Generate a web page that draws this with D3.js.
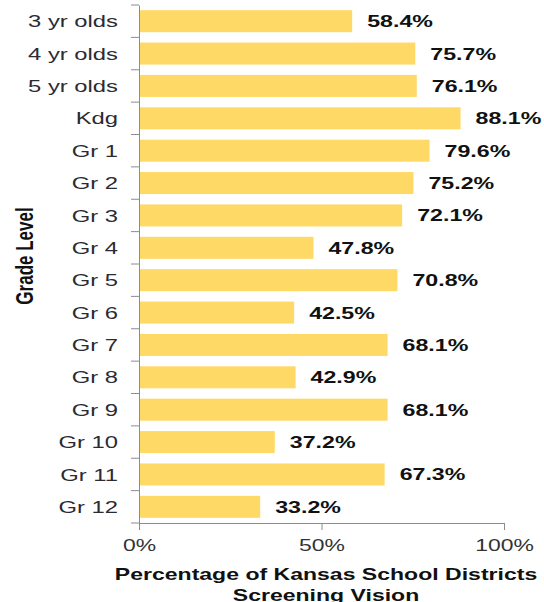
<!DOCTYPE html>
<html>
<head>
<meta charset="utf-8">
<script src="https://cdn.jsdelivr.net/npm/d3@7"></script>
<style>
  body { margin: 0; background: #fff; }
  svg { display: block; font-family: Arial, "Liberation Sans", sans-serif; }
</style>
</head>
<body>
<div id="chart"></div>
<script>
// grade levels and % of districts screening vision
var grades = ["3 yr olds", "4 yr olds", "5 yr olds", "Kdg", "Gr 1", "Gr 2", "Gr 3", "Gr 4",
              "Gr 5", "Gr 6", "Gr 7", "Gr 8", "Gr 9", "Gr 10", "Gr 11", "Gr 12"];
var percents = [58.4, 75.7, 76.1, 88.1, 79.6, 75.2, 72.1, 47.8, 70.8, 42.5, 68.1, 42.9, 68.1, 37.2, 67.3, 33.2];
var xTicks = [0, 50, 100];
var xTitle = ["Percentage of Kansas School Districts", "Screening Vision"];
var yTitle = "Grade Level";

var W = 544, H = 602;
var margin = {top: 5, right: 40, bottom: 79, left: 139};
var width = W - margin.left - margin.right,
    height = H - margin.top - margin.bottom;
var stretch = 1.4; // the reference text is wide

var svg = d3.select("#chart").append("svg")
    .attr("width", W)
    .attr("height", H);

var g = svg.append("g")
    .attr("transform", "translate(" + margin.left + "," + margin.top + ")");

var x = d3.scaleLinear().domain([0, 100]).range([0, width]);
var y = d3.scaleBand().domain(grades).range([0, height]).paddingInner(0.32).paddingOuter(0.16);

var data = grades.map(function(d, i) { return {grade: d, value: percents[i]}; });

// bars
g.selectAll(".bar")
    .data(data)
  .enter().append("rect")
    .attr("class", "bar")
    .attr("x", 0)
    .attr("y", function(d) { return y(d.grade); })
    .attr("width", function(d) { return x(d.value); })
    .attr("height", y.bandwidth())
    .attr("fill", "#ffd966");

// value labels
g.selectAll(".val")
    .data(data)
  .enter().append("text")
    .attr("class", "val")
    .attr("transform", function(d) {
      return "translate(" + (x(d.value) + 15) + "," + (y(d.grade) + y.bandwidth() / 2 + 6) + ") scale(1.45,1)";
    })
    .attr("font-size", 16)
    .attr("font-weight", "bold")
    .attr("fill", "#111")
    .text(function(d) { return d.value.toFixed(1) + "%"; });

// left axis
var yAxis = g.append("g")
    .call(d3.axisLeft(y).tickSize(0).tickPadding(21 / stretch));
yAxis.select(".domain").attr("stroke", "#8c8c8c");
yAxis.selectAll("text")
    .attr("font-size", 17)
    .attr("fill", "#2b2b33")
    .attr("dy", "0.36em")
    .attr("transform", "scale(" + stretch + ",1)");

// ticks between the categories
var bounds = d3.range(grades.length + 1).map(function(i) { return i * y.step(); });
g.selectAll(".ytick")
    .data(bounds)
  .enter().append("line")
    .attr("x1", -8).attr("x2", 0)
    .attr("y1", function(d) { return d; })
    .attr("y2", function(d) { return d; })
    .attr("stroke", "#8c8c8c");

// bottom axis
var xAxis = g.append("g")
    .attr("transform", "translate(0," + height + ")")
    .call(d3.axisBottom(x).tickValues(xTicks).tickSize(7).tickSizeOuter(0)
      .tickFormat(function(d) { return d + "%"; }));
xAxis.select(".domain").attr("stroke", "#8c8c8c");
xAxis.selectAll("line").attr("stroke", "#8c8c8c");
xAxis.selectAll("text")
    .attr("font-size", 17)
    .attr("fill", "#333")
    .attr("y", 16)
    .attr("transform", "scale(1.35,1)");

// axis titles
var cx = 326;
xTitle.forEach(function(t, i) {
  svg.append("text")
      .attr("transform", "translate(" + cx + "," + (580 + i * 21) + ") scale(1.44,1)")
      .attr("text-anchor", "middle")
      .attr("font-size", 16)
      .attr("font-weight", "bold")
      .attr("fill", "#111")
      .text(t);
});

svg.append("text")
    .attr("transform", "translate(24,256) scale(" + stretch + ",1) rotate(-90)")
    .attr("text-anchor", "middle")
    .attr("dy", "0.36em")
    .attr("font-size", 17)
    .attr("font-weight", "bold")
    .attr("fill", "#111")
    .text(yTitle);
</script>
</body>
</html>
